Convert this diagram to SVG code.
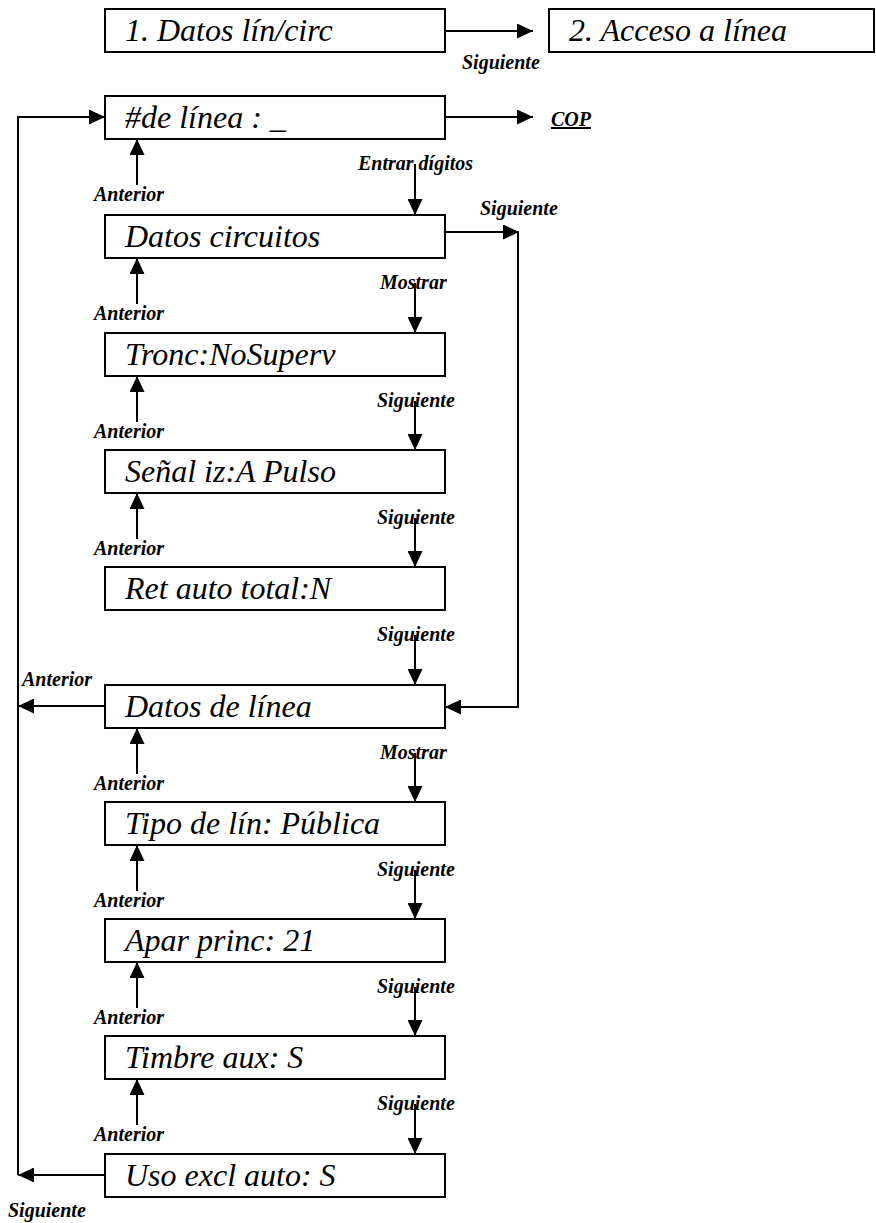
<svg xmlns="http://www.w3.org/2000/svg" width="876" height="1223" viewBox="0 0 876 1223">
<style>
.box{fill:#fff;stroke:#000;stroke-width:2}
.t{font-family:"Liberation Serif","Times New Roman",serif;font-style:italic;font-size:32px;fill:#000}
.l{font-family:"Liberation Serif","Times New Roman",serif;font-style:italic;font-weight:bold;font-size:20px;fill:#000}
.c{fill:none;stroke:#000;stroke-width:2}
</style>
<defs>
<marker id="ah" markerUnits="userSpaceOnUse" markerWidth="17" markerHeight="15" refX="16" refY="7.5" orient="auto">
<path d="M0,0 L16,7.5 L0,15 z" fill="#000"/>
</marker>
</defs>
<g id="n-datos-lin-circ"><rect class="box" x="105" y="9" width="340" height="43"/><text class="t" x="125" y="41">1. Datos lín/circ</text></g>
<g id="n-acceso-linea"><rect class="box" x="549" y="9" width="325" height="43"/><text class="t" x="569" y="41">2. Acceso a línea</text></g>
<g id="n-num-linea"><rect class="box" x="105" y="96" width="340" height="43"/><text class="t" x="125" y="128">#de línea : _</text></g>
<g id="n-cop"><text class="l" x="551" y="126" text-decoration="underline">COP</text></g>
<g id="n-datos-circuitos"><rect class="box" x="105" y="215" width="340" height="43"/><text class="t" x="125" y="247">Datos circuitos</text></g>
<g id="n-tronc"><rect class="box" x="105" y="333" width="340" height="43"/><text class="t" x="125" y="365">Tronc:NoSuperv</text></g>
<g id="n-senal"><rect class="box" x="105" y="450" width="340" height="43"/><text class="t" x="125" y="482">Señal iz:A Pulso</text></g>
<g id="n-ret"><rect class="box" x="105" y="567" width="340" height="43"/><text class="t" x="125" y="599">Ret auto total:N</text></g>
<g id="n-datos-linea"><rect class="box" x="105" y="685" width="340" height="43"/><text class="t" x="125" y="717">Datos de línea</text></g>
<g id="n-tipo"><rect class="box" x="105" y="802" width="340" height="43"/><text class="t" x="125" y="834">Tipo de lín: Pública</text></g>
<g id="n-apar"><rect class="box" x="105" y="919" width="340" height="43"/><text class="t" x="125" y="951">Apar princ: 21</text></g>
<g id="n-timbre"><rect class="box" x="105" y="1036" width="340" height="43"/><text class="t" x="125" y="1068">Timbre aux: S</text></g>
<g id="n-uso"><rect class="box" x="105" y="1154" width="340" height="43"/><text class="t" x="125" y="1186">Uso excl auto: S</text></g>
<g id="connectors">
<path class="c" d="M445,31 H533" marker-end="url(#ah)"/>
<path class="c" d="M445,117 H533" marker-end="url(#ah)"/>
<path class="c" d="M18,1175 V117 H105" marker-end="url(#ah)"/>
<path class="c" d="M105,706 H18" marker-end="url(#ah)"/>
<path class="c" d="M105,1175 H18" marker-end="url(#ah)"/>
<path class="c" d="M445,232 H519" marker-end="url(#ah)"/>
<path class="c" d="M518,231 V707 H445" marker-end="url(#ah)"/>
<path class="c" d="M415,164 V215" marker-end="url(#ah)"/>
<path class="c" d="M415,283 V333" marker-end="url(#ah)"/>
<path class="c" d="M415,401 V450" marker-end="url(#ah)"/>
<path class="c" d="M415,518 V567" marker-end="url(#ah)"/>
<path class="c" d="M415,635 V685" marker-end="url(#ah)"/>
<path class="c" d="M415,753 V802" marker-end="url(#ah)"/>
<path class="c" d="M415,870 V919" marker-end="url(#ah)"/>
<path class="c" d="M415,987 V1036" marker-end="url(#ah)"/>
<path class="c" d="M415,1104 V1154" marker-end="url(#ah)"/>
<path class="c" d="M137,185 V139" marker-end="url(#ah)"/>
<path class="c" d="M137,304 V258" marker-end="url(#ah)"/>
<path class="c" d="M137,422 V376" marker-end="url(#ah)"/>
<path class="c" d="M137,539 V493" marker-end="url(#ah)"/>
<path class="c" d="M137,774 V728" marker-end="url(#ah)"/>
<path class="c" d="M137,891 V845" marker-end="url(#ah)"/>
<path class="c" d="M137,1008 V962" marker-end="url(#ah)"/>
<path class="c" d="M137,1125 V1079" marker-end="url(#ah)"/>
</g>
<g id="labels">
<text class="l" x="462" y="69">Siguiente</text>
<text class="l" x="358" y="170">Entrar dígitos</text>
<text class="l" x="480" y="215">Siguiente</text>
<text class="l" x="380" y="289">Mostrar</text>
<text class="l" x="377" y="407">Siguiente</text>
<text class="l" x="377" y="524">Siguiente</text>
<text class="l" x="377" y="641">Siguiente</text>
<text class="l" x="380" y="759">Mostrar</text>
<text class="l" x="377" y="876">Siguiente</text>
<text class="l" x="377" y="993">Siguiente</text>
<text class="l" x="377" y="1110">Siguiente</text>
<text class="l" x="94" y="201">Anterior</text>
<text class="l" x="94" y="320">Anterior</text>
<text class="l" x="94" y="438">Anterior</text>
<text class="l" x="94" y="555">Anterior</text>
<text class="l" x="94" y="790">Anterior</text>
<text class="l" x="94" y="907">Anterior</text>
<text class="l" x="94" y="1024">Anterior</text>
<text class="l" x="94" y="1141">Anterior</text>
<text class="l" x="22" y="686">Anterior</text>
<text class="l" x="8" y="1217">Siguiente</text>
</g>
</svg>
